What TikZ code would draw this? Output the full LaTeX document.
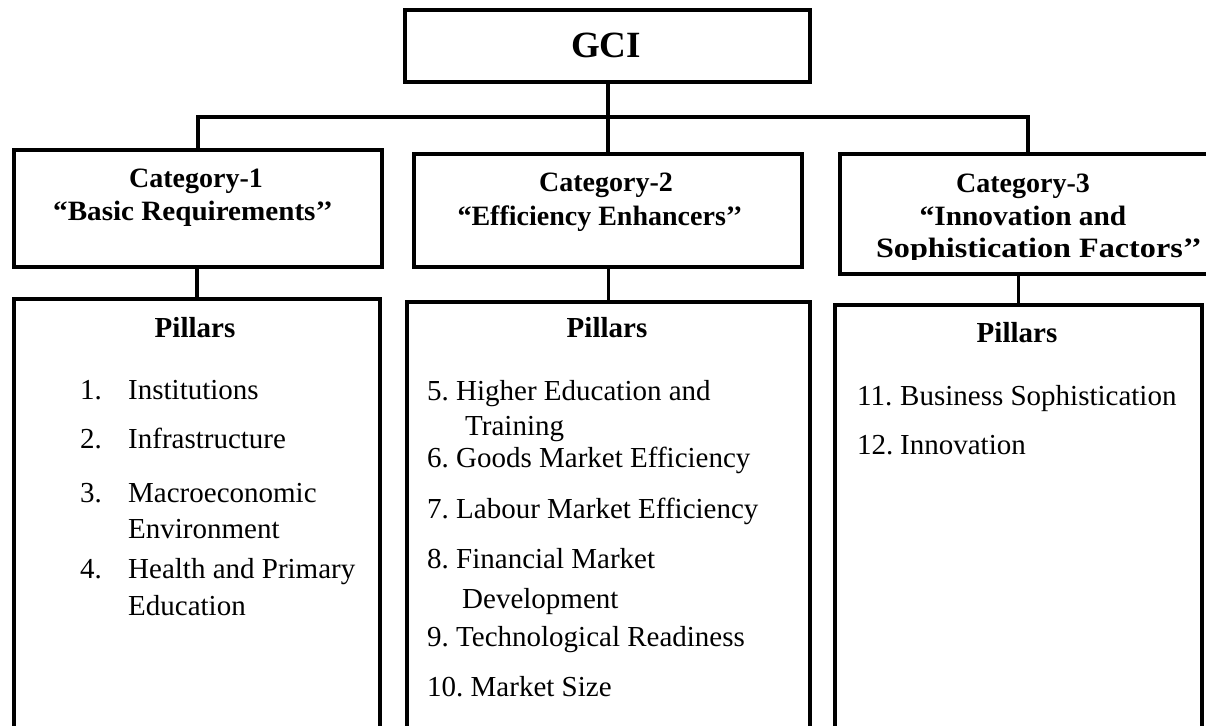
\documentclass[tikz,border=0pt]{standalone}
\usepackage{fontspec}
\setmainfont{Liberation Serif}
\frenchspacing
\begin{document}
\begin{tikzpicture}[x=1pt,y=-1pt,
  box/.style={draw, line width=3.6pt, rectangle, inner sep=0pt, anchor=north west},
  link/.style={line width=3.6pt},
  title/.style={font=\fontsize{37}{40}\selectfont\bfseries, anchor=base, inner sep=0pt},
  head/.style={font=\fontsize{28}{33}\selectfont\bfseries, anchor=base, inner sep=0pt},
  pillhead/.style={font=\fontsize{29}{34}\selectfont\bfseries, anchor=base, inner sep=0pt},
  item/.style={font=\fontsize{29}{34}\selectfont, anchor=base west, inner sep=0pt}]
\useasboundingbox (0,0) rectangle (1206,725);
\clip (0,0) rectangle (1206,725);

% boxes
\node[box, minimum width=405pt, minimum height=72pt]  (gci) at (403,8) {};
\node[box, minimum width=368pt, minimum height=117pt] (c1)  at (12,148) {};
\node[box, minimum width=388pt, minimum height=113pt] (c2)  at (412,152) {};
\node[box, minimum width=376pt, minimum height=120pt] (c3)  at (838,152) {};
\node[box, minimum width=366pt, minimum height=480pt] (p1)  at (12,297) {};
\node[box, minimum width=403pt, minimum height=480pt] (p2)  at (405,300) {};
\node[box, minimum width=367pt, minimum height=480pt] (p3)  at (833,303) {};

% connectors
\coordinate (bus) at (606,117);
\draw[link] (c2.north) -- (c2.north |- gci.south);
\draw[link] (c1.north) |- (bus) -| (c3.north);
\draw[link] (p1.north) -- (p1.north |- c1.south);
\draw[link] (p2.north) -- (p2.north |- c2.south);
\draw[link] (p3.north) -- (p3.north |- c3.south);

% top
\node[title] (tgci) at (606,57) {GCI};

% category headings
\node[head] (t1a) at (196,187) {Category-1};
\node[head] (t1b) at (193,220) {\scalebox{1.04}[1]{“Basic Requirements’’}};
\node[head] (t2a) at (606,191) {Category-2};
\node[head] (t2b) at (600,225) {“Efficiency Enhancers’’};
\begin{scope}
  \clip (838,152) rectangle (1206,259);
  \node[head] (t3a) at (1023,192) {Category-3};
  \node[head] (t3b) at (1023,225) {\scalebox{1.05}[1]{“Innovation and}};
  \node[head] (t3c) at (1039,257) {\scalebox{1.15}[1]{Sophistication Factors’’}};
\end{scope}

% pillars, category 1
\node[pillhead] (h1) at (195,337) {Pillars};
\node[item] (n1) at (80,399) {1.};  \node[item] (i1) at (128,399) {Institutions};
\node[item] (n2) at (80,448) {2.};  \node[item] (i2) at (128,448) {Infrastructure};
\node[item] (n3) at (80,502) {3.};  \node[item] (i3) at (128,502) {Macroeconomic};
\node[item] (i3b) at (128,538) {Environment};
\node[item] (n4) at (80,578) {4.};  \node[item] (i4) at (128,578) {Health and Primary};
\node[item] (i4b) at (128,615) {Education};

% pillars, category 2
\node[pillhead] (h2) at (607,337) {Pillars};
\node[item] (i5)  at (427,400) {5. Higher Education and};
\node[item] (i5b) at (465,435) {Training};
\node[item] (i6)  at (427,467) {6. Goods Market Efficiency};
\node[item] (i7)  at (427,518) {7. Labour Market Efficiency};
\node[item] (i8)  at (427,568) {8. Financial Market};
\node[item] (i8b) at (462,608) {Development};
\node[item] (i9)  at (427,646) {9. Technological Readiness};
\node[item] (i10) at (427,696) {10. Market Size};

% pillars, category 3
\node[pillhead] (h3) at (1017,342) {Pillars};
\node[item] (n11) at (857,405) {11.}; \node[item] (i11) at (900,405) {Business Sophistication};
\node[item] (n12) at (857,454) {12.}; \node[item] (i12) at (900,454) {Innovation};
\end{tikzpicture}
\end{document}
